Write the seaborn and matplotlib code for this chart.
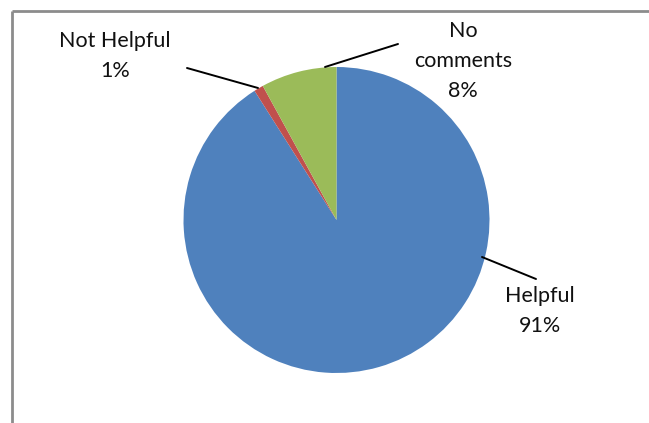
import matplotlib
matplotlib.use("Agg")
import matplotlib.pyplot as plt
import seaborn as sns
import numpy as np

# Survey responses
categories = ["Helpful", "Not Helpful", "No comments"]
shares = [91, 1, 8]
colors = ["#4F81BD", "#C0504D", "#9BBB59"]

sns.set_theme(style="white")
plt.rcParams["font.family"] = ["Lato", "DejaVu Sans"]
palette = sns.color_palette(colors)

W, H = 649, 423
fig = plt.figure(figsize=(W / 100, H / 100), dpi=100)
ax = fig.add_axes([0, 0, 1, 1])

cx, cy, r = 336.5, H - 220, 153
ax.pie(shares, colors=palette, startangle=90, counterclock=False,
       center=(cx, cy), radius=r, frame=True,
       wedgeprops=dict(linewidth=0))
ax.set_xlim(0, W)
ax.set_ylim(0, H)
ax.set_aspect("equal")
ax.axis("off")

# Chart frame (top and left edges visible)
frame_col = "#8c8c8c"
ax.plot([12, W], [H - 11, H - 11], color=frame_col, lw=2, solid_capstyle="butt")
ax.plot([12, 12], [H - 11, 0], color=frame_col, lw=2, solid_capstyle="butt")

# Label placement: (text centre, leader start on label side, leader end on pie)
layout = {
    "Helpful": ((540, 311), (536, 279), (482, 257)),
    "Not Helpful": ((115, 56), (187, 68), (258, 88)),
    "No comments": ((463, 61), (398, 44), (325, 67)),
}
text_labels = {
    "Helpful": "Helpful",
    "Not Helpful": "Not Helpful",
    "No comments": "No\ncomments",
}

for cat, val in zip(categories, shares):
    (tx, ty), (lx0, ly0), (lx1, ly1) = layout[cat]
    ax.plot([lx0, lx1], [H - ly0, H - ly1], color="black", lw=1.4)
    ax.text(tx, H - ty, f"{text_labels[cat]}\n{val}%", ha="center", va="center",
            fontsize=15.5, color="#111111", linespacing=1.65)

fig.savefig("out.png", dpi=100)
